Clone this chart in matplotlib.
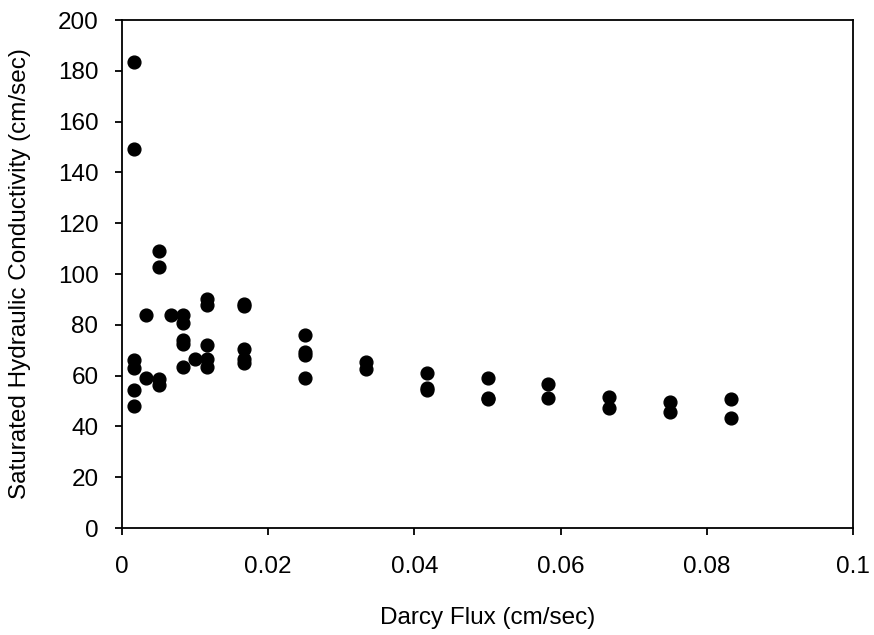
import matplotlib.pyplot as plt

plt.rcParams['font.family'] = ['Liberation Sans', 'DejaVu Sans']

# Darcy flux (cm/sec) and measured saturated hydraulic conductivity (cm/sec)
flux = [0.00167] * 6 + [0.00333] * 2 + [0.005] * 4 + [0.00667] \
    + [0.00833] * 5 + [0.01] + [0.01167] * 5 + [0.01667] * 5 \
    + [0.025] * 4 + [0.03333] * 2 + [0.04167] * 3 + [0.05] * 3 \
    + [0.05833] * 2 + [0.06667] * 2 + [0.075] * 2 + [0.08333] * 2
ksat = [183.4, 149.2, 66.0, 62.9, 54.2, 48.0,
        83.8, 59.0,
        109.0, 102.8, 58.5, 56.2,
        83.8,
        83.8, 80.8, 73.9, 72.3, 63.4,
        66.7,
        90.0, 87.6, 72.2, 66.7, 63.4,
        88.2, 87.4, 70.3, 66.4, 65.1,
        76.0, 69.4, 68.0, 58.9,
        65.5, 62.7,
        61.0, 55.0, 54.2,
        59.2, 51.1, 50.6,
        56.7, 51.1,
        51.6, 47.2,
        49.8, 45.5,
        50.8, 43.5]

fig = plt.figure(figsize=(8.74, 6.35), dpi=100)
ax = fig.add_axes([0.1396, 0.1685, 0.8364, 0.8])

ax.plot(flux, ksat, 'o', color='black', markersize=9.2)

ax.set_xlim(0, 0.1)
ax.set_ylim(0, 200)
ax.set_xticks([0, 0.02, 0.04, 0.06, 0.08, 0.1])
ax.set_xticklabels(['0', '0.02', '0.04', '0.06', '0.08', '0.1'])
ax.set_yticks(range(0, 201, 20))

for side in ax.spines.values():
    side.set_linewidth(1.3)
ax.tick_params(axis='both', direction='out', length=5, width=1.3,
               labelsize=17.5)
ax.tick_params(axis='x', pad=15)
ax.tick_params(axis='y', pad=12)

ax.set_xlabel('Darcy Flux (cm/sec)', fontsize=17.5, labelpad=21)
ax.set_ylabel('Saturated Hydraulic Conductivity (cm/sec)', fontsize=17.5,
              labelpad=19)

plt.savefig('out.png', dpi=100)
